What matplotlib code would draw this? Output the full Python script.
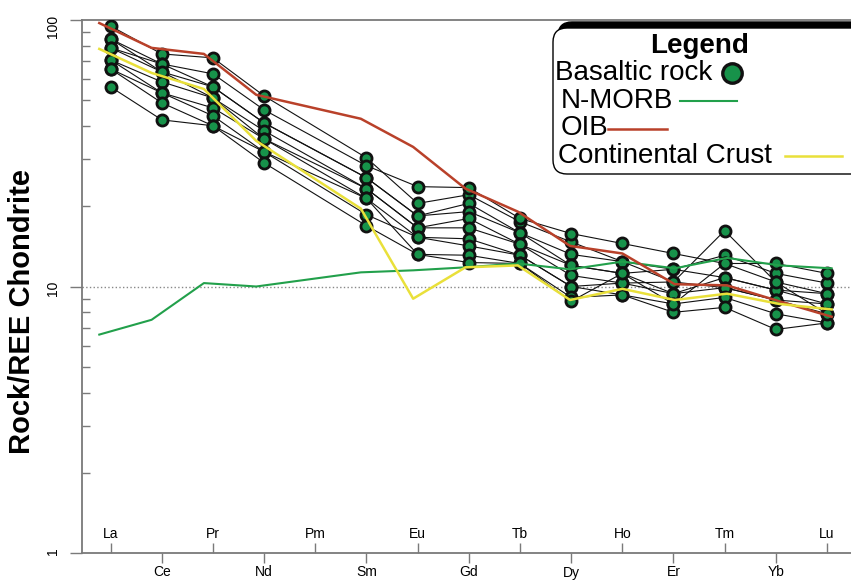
import numpy as np
import matplotlib
matplotlib.use("Agg")
import matplotlib.pyplot as plt
from matplotlib.patches import FancyBboxPatch
from matplotlib.ticker import NullFormatter

plt.rcParams['font.family'] = ['Liberation Sans', 'DejaVu Sans']

# REE order on the x axis (Pm is only a tick, nothing is measured there)
elements = ['La', 'Ce', 'Pr', 'Nd', 'Pm', 'Sm', 'Eu', 'Gd', 'Tb', 'Dy', 'Ho', 'Er', 'Tm', 'Yb', 'Lu']
measured = ['La', 'Ce', 'Pr', 'Nd', 'Sm', 'Eu', 'Gd', 'Tb', 'Dy', 'Ho', 'Er', 'Tm', 'Yb', 'Lu']

# chondrite-normalised basalt samples
samples = [
    [94.9, 74.6, 72.1, 51.9, 30.4, 20.5, 22.1, 17.5, 14.7, 12.4, 11.6, 13.1, 11.2, 10.3],
    [84.9, 68.4, 62.8, 46.0, 28.4, 23.7, 23.5, 18.0, 15.8, 14.5, 13.3, 12.2, 12.2, 11.2],
    [84.9, 63.9, 56.1, 41.1, 25.6, 18.4, 20.5, 15.9, 13.2, 12.4, 10.4, 16.2, 10.4, 9.4],
    [78.6, 68.4, 56.1, 41.1, 25.6, 18.4, 19.1, 15.9, 12.0, 11.2, 11.6, 10.8, 9.7, 8.6],
    [78.6, 63.9, 51.0, 38.4, 23.3, 16.6, 18.0, 14.4, 12.0, 11.2, 9.4, 10.8, 9.7, 9.4],
    [70.8, 58.6, 51.0, 35.8, 23.3, 16.6, 16.6, 14.4, 11.0, 10.3, 10.4, 9.9, 8.9, 7.9],
    [70.8, 53.3, 46.8, 35.8, 21.4, 15.3, 15.1, 13.1, 10.0, 10.3, 9.4, 9.9, 8.9, 8.6],
    [65.5, 53.3, 43.7, 32.0, 18.6, 15.3, 14.2, 13.1, 10.0, 9.3, 8.6, 9.1, 7.9, 7.3],
    [65.5, 48.9, 40.1, 32.0, 21.4, 13.2, 13.1, 12.2, 9.1, 9.3, 8.0, 8.35, 6.9, 7.3],
    [56.1, 42.2, 40.1, 29.1, 16.9, 13.2, 12.3, 12.2, 8.8, 11.2, 8.6, 12.2, 10.4, 7.9],
]

# reference patterns
nmorb = [6.6, 7.5, 10.3, 10.0, 11.3, 11.5, 11.8, 12.2, 11.6, 12.4, 11.7, 12.8, 12.0, 11.7]
oib = [97.4, 78.6, 74.6, 52.4, 42.6, 33.4, 23.3, 19.1, 14.2, 13.3, 10.2, 10.1, 8.8, 7.7]
crust = [77.9, 63.3, 55.1, 35.2, 19.6, 9.0, 11.8, 12.0, 8.9, 9.8, 8.9, 9.4, 8.6, 8.2]

x = [elements.index(e) + 1 for e in measured]

W, H = 851, 581
fig = plt.figure(figsize=(W / 100, H / 100), dpi=100)
fig.set_facecolor('white')
ax = fig.add_axes([81.7 / W, 28 / H, 1 - 81.7 / W, (553 - 20) / H])

grey = '#7a7a7a'
for s in samples:
    ax.plot(x, s, '-', color='#111111', lw=0.8, zorder=2)
for s in samples:
    ax.plot(x, s, 'o', ms=8, mfc='#17924a', mec='#111111', mew=2, zorder=3)

ax.axhline(10, color='#888888', ls=':', lw=1, zorder=1)

ax.set_yscale('log')
ax.set_ylim(1, 100)
ax.set_xlim(0.435, 15.47)

# even elements: ticks out, labels below; odd ones: ticks in, labels above
pos = np.arange(1, len(elements) + 1)
ax.set_xticks(pos[1::2], labels=elements[1::2])
ax.set_xticks(pos[0::2], labels=elements[0::2], minor=True)
ax.tick_params(axis='x', which='major', direction='out', length=7, width=1,
               color=grey, labelsize=10, pad=2)
ax.tick_params(axis='x', which='minor', direction='in', length=7, width=1,
               color=grey, labelsize=10, pad=-19)

ax.set_yticks([1, 10, 100], labels=['1', '10', '100'])
ax.yaxis.set_minor_formatter(NullFormatter())
ax.tick_params(axis='y', which='major', direction='out', length=8.5, width=1,
               color=grey, labelsize=10, labelrotation=90, pad=7)
ax.tick_params(axis='y', which='minor', direction='in', length=6, width=1, color=grey)

for side in ['left', 'top', 'bottom']:
    ax.spines[side].set_color(grey)
    ax.spines[side].set_linewidth(1.3)
ax.spines['right'].set_visible(False)

# reference curves sit on a slightly different x scale
ax2 = ax.twiny()
ax2.set_xlim(0.664, 15.37)
ax2.set_axis_off()
ax2.plot(x, nmorb, color='#22a04b', lw=1.5)
ax2.plot(x, oib, color='#b9412a', lw=1.8)
ax2.plot(x, crust, color='#e9e03a', lw=1.8)

fig.text(22 / W, 1 - 312 / H, 'Rock/REE Chondrite', rotation=90, ha='center',
         va='center', fontsize=21, fontweight='bold')

# legend drawn in pixel space
lg = fig.add_axes([0, 0, 1, 1])
lg.set_xlim(0, W)
lg.set_ylim(H, 0)
lg.set_axis_off()
lg.add_patch(FancyBboxPatch((558, 22), 320, 147, boxstyle='round,pad=0,rounding_size=14',
                            fc='black', ec='black', lw=1))
lg.add_patch(FancyBboxPatch((553, 28), 320, 146, boxstyle='round,pad=0,rounding_size=14',
                            fc='white', ec='black', lw=1))
lg.text(700, 46, 'Legend', ha='center', va='center', fontsize=20, fontweight='bold')
lg.text(555, 73, 'Basaltic rock', ha='left', va='center', fontsize=20)
lg.plot([732], [73], 'o', ms=14, mfc='#17924a', mec='#111111', mew=2.4)
lg.text(561, 101, 'N-MORB', ha='left', va='center', fontsize=20)
lg.plot([680, 737], [101, 101], color='#22a04b', lw=1.5)
lg.text(561, 128, 'OIB', ha='left', va='center', fontsize=20)
lg.plot([608, 667], [129, 129], color='#b9412a', lw=1.8)
lg.text(558, 156, 'Continental Crust', ha='left', va='center', fontsize=20)
lg.plot([785, 842], [156, 156], color='#e9e03a', lw=1.8)

fig.savefig('out.png', dpi=100)
